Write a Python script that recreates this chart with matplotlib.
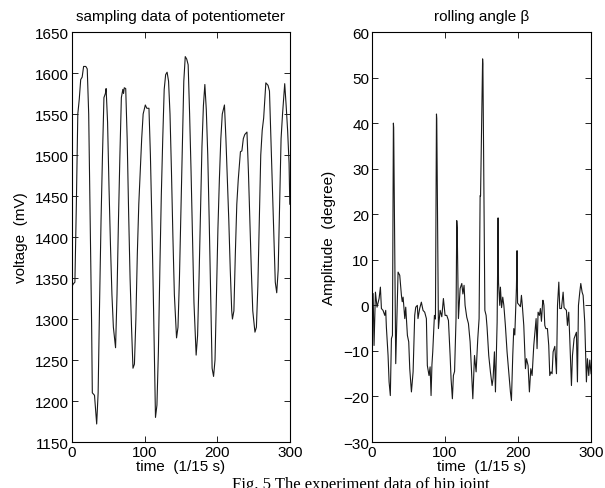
import numpy as np
import matplotlib
matplotlib.use("Agg")
import matplotlib.pyplot as plt

plt.rcParams["font.family"] = ["Liberation Sans", "DejaVu Sans"]

# ---- left: potentiometer voltage (mV) vs sample index ----
pot_t = [0, 2, 4, 6, 8, 10, 12, 14, 16, 19, 21, 23, 25, 27, 28, 31, 34, 36, 38, 40,
         42, 44, 46, 47, 49, 51, 53, 55, 57, 60, 62, 64, 66, 68, 70, 71, 72, 74, 76, 78,
         80, 82, 84, 86, 88, 90, 92, 94, 96, 98, 101, 103, 106, 108, 110, 112, 114, 115, 117, 119,
         121, 123, 125, 127, 129, 131, 133, 135, 137, 139, 141, 144, 146, 148, 150, 152, 154, 156, 158, 160,
         162, 164, 166, 168, 171, 173, 175, 177, 179, 181, 183, 185, 187, 189, 191, 193, 195, 197, 199, 201,
         203, 205, 207, 210, 212, 214, 216, 218, 220, 221, 223, 225, 227, 229, 232, 234, 236, 238, 241, 243,
         245, 247, 249, 252, 254, 256, 258, 260, 262, 264, 267, 270, 272, 274, 276, 278, 280, 282, 284, 286,
         288, 290, 293, 295, 297, 299, 300]
pot_v = [1340, 1343, 1345, 1440, 1550, 1568, 1592, 1595, 1608, 1608, 1605, 1550, 1420, 1295, 1210, 1207, 1172, 1210, 1320, 1420,
         1500, 1570, 1575, 1581, 1540, 1460, 1390, 1330, 1290, 1265, 1330, 1420, 1500, 1570, 1580, 1575, 1582, 1581, 1520, 1430,
         1350, 1290, 1240, 1245, 1300, 1380, 1440, 1480, 1520, 1550, 1561, 1557, 1557, 1500, 1420, 1330, 1230, 1180, 1195, 1260,
         1360, 1450, 1520, 1580, 1598, 1601, 1590, 1550, 1480, 1400, 1330, 1277, 1290, 1350, 1430, 1510, 1590, 1620, 1617, 1610,
         1550, 1480, 1400, 1320, 1256, 1280, 1350, 1430, 1510, 1560, 1586, 1555, 1500, 1420, 1330, 1240, 1230, 1250, 1330, 1410,
         1470, 1520, 1550, 1561, 1520, 1470, 1420, 1360, 1310, 1300, 1310, 1380, 1440, 1470, 1504, 1505, 1520, 1525, 1528, 1480,
         1420, 1360, 1310, 1284, 1290, 1340, 1420, 1500, 1530, 1545, 1588, 1585, 1578, 1520, 1460, 1400, 1345, 1332, 1360, 1440,
         1520, 1550, 1587, 1560, 1530, 1490, 1440]

# ---- right: rolling angle beta (degree) ----
beta_t = [0, 1.4, 2.7, 4.6, 6.8, 9.6, 11.4, 12.8, 15, 17.4, 18.7, 19.6, 21.9, 23.3, 25, 26.5, 27.9, 29.2, 29.6, 32.4,
          35.6, 37.9, 40.2, 41.3, 42.5, 44.8, 46.1, 48.4, 50.2, 51.6, 53.9, 56.2, 58.4, 59.8, 62, 62.9, 65.2, 67.5, 69.8, 72.1,
          74.4, 75.7, 78, 79.5, 80.8, 82, 83.1, 85.4, 86.8, 88.2, 88.6, 90.9, 93.2, 95.5, 97.7, 100, 102.3, 104.6, 106.9, 108.2,
          110, 111.4, 113, 115, 116, 116.6, 118.3, 120.6, 122.9, 124.4, 126, 127.4, 129.7, 132, 134.3, 136.6, 138, 140.3, 142.5, 144.8,
          146.6, 148, 148.6, 151.4, 151.8, 154.5, 156.2, 157.5, 159.8, 162.1, 164.4, 165.8, 167.6, 169, 171.3, 172.6, 173.2, 174.9, 175.8, 177.4,
          179, 180.5, 182.6, 184.9, 187.2, 189.5, 190.9, 192.7, 194.1, 195.5, 197.7, 198.6, 199.3, 201.9, 203.2, 204.6, 205.8, 207.8, 210.1, 211.5,
          213.7, 215.5, 217.4, 219.2, 221.5, 222.8, 224.7, 226, 227.4, 229.2, 230.6, 232, 233.8, 234.3, 235.4, 236.6, 238, 240.2, 242, 243.4,
          245, 246.6, 248, 250.3, 252.6, 254, 255.8, 257.1, 259.4, 261.7, 263, 266.2, 267.6, 269.4, 270.8, 273.1, 274.5, 276.7, 279.9, 281.3,
          282.7, 284.5, 285.9, 287.7, 289.1, 291.3, 293.6, 295, 296.8, 298.2, 300]
beta_y = [-3, 2.6, -8.8, 2.9, -0.4, 1.5, 4, -0.7, -1.1, -2.2, -1.1, -4.8, -11, -16.8, -19.8, -7.3, -6.6, 40, 39, -12.8,
          7.3, 6.6, 2.2, 0.8, 1.8, -2.9, -0.4, -6.6, -8, -13.9, -19, -14.6, -2.2, -0.4, 0, -2.9, -0.7, 0.7, -1.1, -1.5,
          -2.9, -13.2, -15.4, -13.5, -19.8, -13, -10.2, -2.2, -3, 42, 41, -5.1, -1.1, -2.5, 1.5, -2.2, -2.2, -3.3, -11, -16.1,
          -20.5, -15.4, -14.5, -2.9, 18.6, 17, -2.9, 3.7, 4.8, 2.5, 4.4, 0, -2.6, -4, -8, -16.1, -20.5, -11, -14.6, -7.3,
          -2.9, 24.1, 24, 54.1, 53, -1.1, -2.2, -4.8, -11, -14.6, -17.6, -16, -10.2, -19, -3.7, 19.2, 5, 0, 4, -0.5,
          1.8, 0, -4.4, -10.2, -14.6, -19, -20.9, -11, -5.1, -6.5, 3.7, 12, 0.5, 0, -0.3, 2.2, 0, -4.4, -13.9, -11.7,
          -13.2, -19, -13.9, -15.4, -8.8, -6.5, -2.9, -9.5, -1.5, -2.2, -0.7, -3.5, 1.1, 1.1, 0, -4.4, -5.1, -5.1, -8.8, -15.4,
          -14.6, -15, -10.2, -9, -15, 0, 5.1, -0.7, -0.7, 2.9, -0.5, -1.1, -4.4, -1.5, -7.3, -17.6, -11, -7.3, -5.9, -16.8,
          0, 2.9, 4.8, 2.9, 2.2, -3.7, -16.8, -11.7, -15.4, -12, -15]

fig = plt.figure(figsize=(6.05, 4.89), dpi=100)
ax1 = fig.add_axes([0.119, 0.094, 0.360, 0.8385])
ax2 = fig.add_axes([0.615, 0.094, 0.362, 0.8385])

LC = "#1a1a1a"
FS = 11
ax1.plot(pot_t, pot_v, color=LC, lw=0.8)
ax1.set_xlim(0, 300); ax1.set_ylim(1150, 1650)
ax1.set_xticks([0, 100, 200, 300])
ax1.set_yticks(np.arange(1150, 1651, 50))
ax1.set_title("sampling data of potentiometer", fontsize=FS, pad=9)
ax1.set_xlabel("time  (1/15 s)", fontsize=FS, labelpad=0)
ax1.set_ylabel("voltage  (mV)", fontsize=FS, labelpad=5)

ax2.plot(beta_t, beta_y, color=LC, lw=0.8)
ax2.set_xlim(0, 300); ax2.set_ylim(-30, 60)
ax2.set_xticks([0, 100, 200, 300])
ax2.set_yticks(np.arange(-30, 61, 10))
ax2.set_title("rolling angle β", fontsize=FS, pad=9)
ax2.set_xlabel("time  (1/15 s)", fontsize=FS, labelpad=0)
ax2.set_ylabel("Amplitude  (degree)", fontsize=FS, labelpad=5)

for ax in (ax1, ax2):
    ax.tick_params(direction="in", top=True, right=True, length=4, width=0.6,
                   labelsize=FS, pad=2)
    for s in ax.spines.values():
        s.set_linewidth(0.8)

# caption, cut off by the bottom edge as in the source
fig.text(0.383, -0.008, "Fig. 5 The experiment data of hip joint", fontsize=12,
         family=["Liberation Serif", "DejaVu Serif"], ha="left", va="bottom")

fig.savefig("out.png", dpi=100)
